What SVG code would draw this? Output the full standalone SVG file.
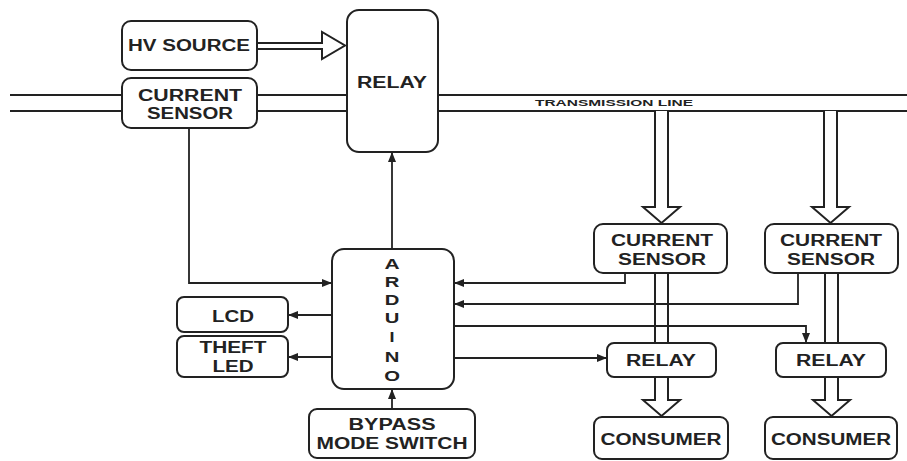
<svg xmlns="http://www.w3.org/2000/svg" width="907" height="461" viewBox="0 0 907 461">
<defs>
<marker id="ah" viewBox="0 0 10 8" markerWidth="10" markerHeight="8" refX="10" refY="4" orient="auto" markerUnits="userSpaceOnUse">
<path d="M0,0 L10,4 L0,8 Z" fill="#222"/>
</marker>
</defs>
<style>
.box{fill:#fff;stroke:#222;stroke-width:2}
.ln{fill:none;stroke:#222;stroke-width:2}
.conn{fill:none;stroke:#222;stroke-width:1.8;marker-end:url(#ah)}
.big{fill:#fff;stroke:#222;stroke-width:2;stroke-linejoin:miter}
text{font-family:"Liberation Sans",Arial,sans-serif;font-weight:bold;fill:#222;text-anchor:middle;dominant-baseline:central}
.t{font-size:16px}
.a{font-size:15px}
.s{font-size:9px}
</style>
<rect width="907" height="461" fill="#fff"/>
<g id="transmission-line">
<path class="ln" d="M10,95 H122 M10,111 H122 M257,95 H347 M257,111 H347 M438,95 H907 M438,111 H907"/>
<text class="s" x="614" y="103" textLength="158" lengthAdjust="spacingAndGlyphs">TRANSMISSION LINE</text>
</g>
<g id="connectors">
<path class="big" d="M257,43 H322 V32 L345,45.5 L322,59 V49 H257"/>
<path class="big" d="M655,111 V207 H643 L661.5,223 L680,207 H668 V111"/>
<path class="big" d="M824,111 V207 H812 L830.5,223 L849,207 H837 V111"/>
<path class="ln" d="M655,273 V343 M668,273 V343 M825,273 V343 M838,273 V343"/>
<path class="big" d="M655,377 V400 H643 L661.5,416 L680,400 H668 V377"/>
<path class="big" d="M825,377 V400 H813 L831.5,416 L850,400 H838 V377"/>
<path class="conn" d="M189,128 V283 H332"/>
<path class="conn" d="M392,249 V152"/>
<path class="conn" d="M625,273 V283 H454"/>
<path class="conn" d="M798,273 V304 H454"/>
<path class="conn" d="M454,326 H806 V343"/>
<path class="conn" d="M454,358 H607"/>
<path class="conn" d="M332,315 H288"/>
<path class="conn" d="M332,357 H288"/>
<path class="conn" d="M392,409 V389"/>
</g>
<g id="hv-source">
<rect class="box" x="122" y="21" width="135" height="49" rx="9"/>
<text class="t" x="189" y="45" textLength="122" lengthAdjust="spacingAndGlyphs">HV SOURCE</text>
</g>
<g id="current-sensor-main">
<rect class="box" x="122" y="78" width="135" height="50" rx="9"/>
<text class="t" x="190" y="95" textLength="104" lengthAdjust="spacingAndGlyphs">CURRENT</text>
<text class="t" x="190" y="113" textLength="86" lengthAdjust="spacingAndGlyphs">SENSOR</text>
</g>
<g id="relay-main">
<rect class="box" x="347" y="10" width="91" height="142" rx="12"/>
<text class="t" x="392" y="82" textLength="70" lengthAdjust="spacingAndGlyphs">RELAY</text>
</g>
<g id="arduino">
<rect class="box" x="332" y="249" width="122" height="140" rx="12"/>
<text class="a" transform="translate(392,264) scale(1.4,1)">A</text>
<text class="a" transform="translate(392,282) scale(1.35,1)">R</text>
<text class="a" transform="translate(392,300) scale(1.35,1)">D</text>
<text class="a" transform="translate(392,318) scale(1.35,1)">U</text>
<text class="a" transform="translate(392,337) scale(1.2,1)">I</text>
<text class="a" transform="translate(392,357) scale(1.35,1)">N</text>
<text class="a" transform="translate(392,376) scale(1.35,1)">O</text>
</g>
<g id="lcd">
<rect class="box" x="177" y="297" width="111" height="35" rx="7"/>
<text class="t" x="233" y="316" textLength="42" lengthAdjust="spacingAndGlyphs">LCD</text>
</g>
<g id="theft-led">
<rect class="box" x="177" y="336" width="111" height="41" rx="7"/>
<text class="t" x="233" y="347" textLength="67" lengthAdjust="spacingAndGlyphs">THEFT</text>
<text class="t" x="233" y="366" textLength="41" lengthAdjust="spacingAndGlyphs">LED</text>
</g>
<g id="bypass-switch">
<rect class="box" x="309" y="409" width="166" height="49" rx="8"/>
<text class="t" x="392" y="424" textLength="87" lengthAdjust="spacingAndGlyphs">BYPASS</text>
<text class="t" x="392" y="443" textLength="151" lengthAdjust="spacingAndGlyphs">MODE SWITCH</text>
</g>
<g id="current-sensor-1">
<rect class="box" x="594" y="224" width="133" height="49" rx="9"/>
<text class="t" x="662" y="240" textLength="102" lengthAdjust="spacingAndGlyphs">CURRENT</text>
<text class="t" x="662" y="259" textLength="88" lengthAdjust="spacingAndGlyphs">SENSOR</text>
</g>
<g id="current-sensor-2">
<rect class="box" x="765" y="224" width="133" height="49" rx="9"/>
<text class="t" x="831" y="240" textLength="102" lengthAdjust="spacingAndGlyphs">CURRENT</text>
<text class="t" x="831" y="259" textLength="88" lengthAdjust="spacingAndGlyphs">SENSOR</text>
</g>
<g id="relay-1">
<rect class="box" x="607" y="343" width="109" height="34" rx="7"/>
<text class="t" x="661" y="360" textLength="70" lengthAdjust="spacingAndGlyphs">RELAY</text>
</g>
<g id="relay-2">
<rect class="box" x="776" y="343" width="110" height="34" rx="7"/>
<text class="t" x="831" y="360" textLength="70" lengthAdjust="spacingAndGlyphs">RELAY</text>
</g>
<g id="consumer-1">
<rect class="box" x="594" y="417" width="134" height="42" rx="8"/>
<text class="t" x="661" y="439" textLength="121" lengthAdjust="spacingAndGlyphs">CONSUMER</text>
</g>
<g id="consumer-2">
<rect class="box" x="765" y="417" width="132" height="42" rx="8"/>
<text class="t" x="831" y="439" textLength="120" lengthAdjust="spacingAndGlyphs">CONSUMER</text>
</g>
</svg>
